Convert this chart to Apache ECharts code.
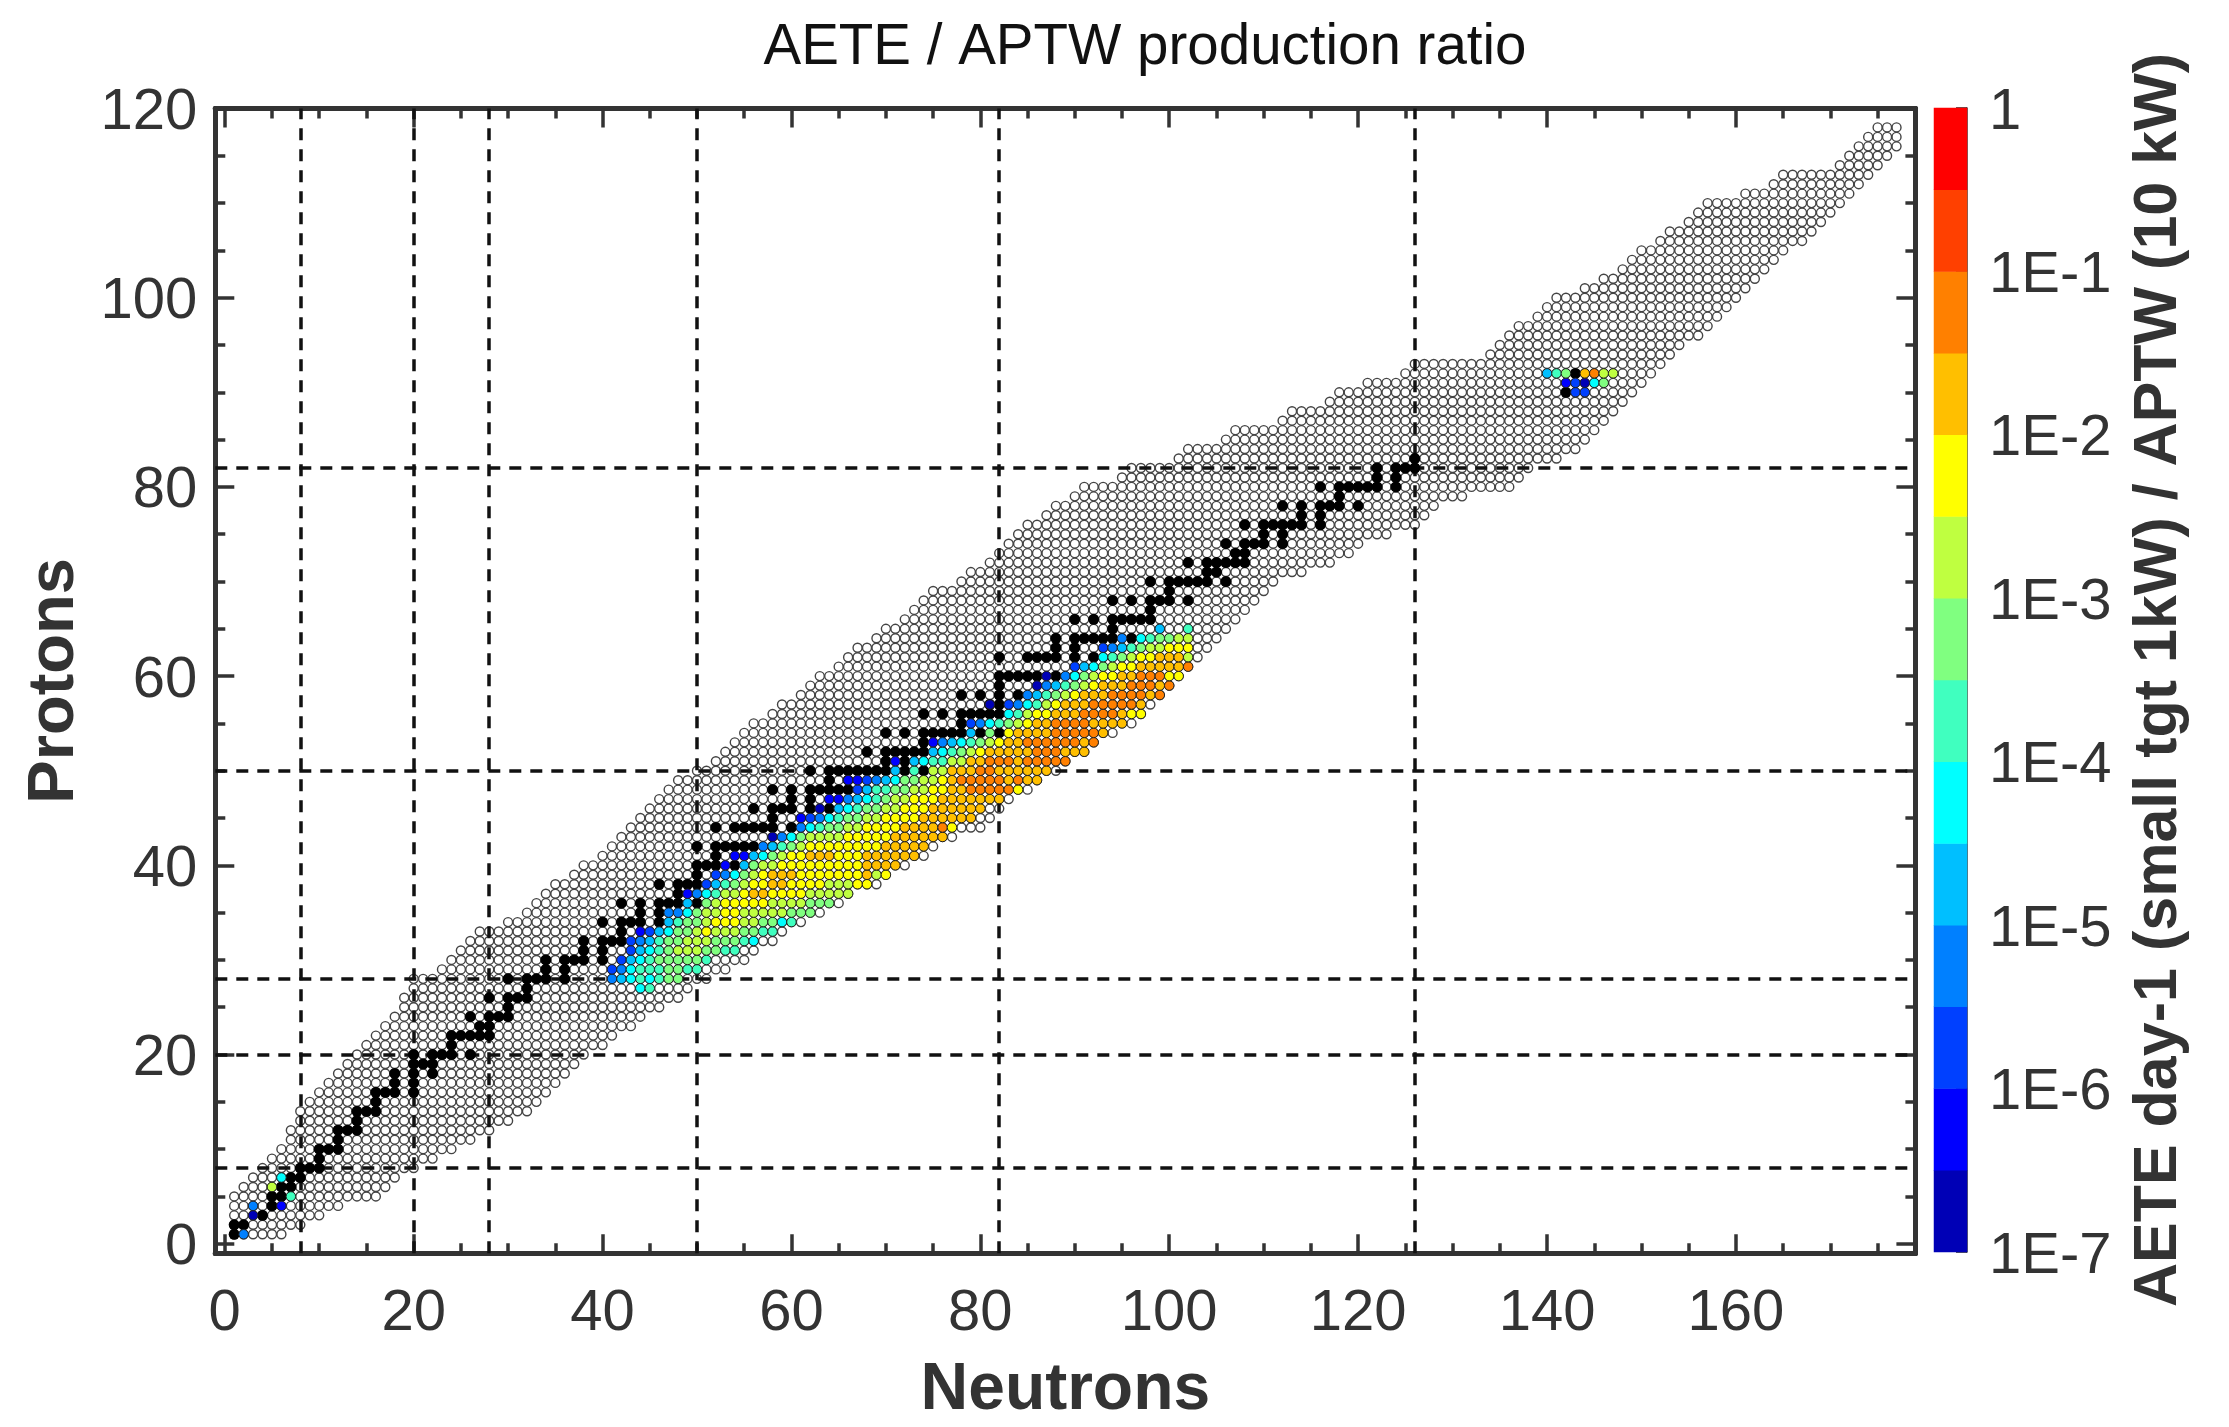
<!DOCTYPE html>
<html>
<head>
<meta charset="utf-8">
<style>html,body{margin:0;padding:0;background:#fff}#c{width:2229px;height:1427px;filter:blur(0.6px)}</style>
<script src="https://cdn.jsdelivr.net/npm/echarts@6/dist/echarts.min.js"></script>
</head>
<body>
<div id="c"></div>
<script>
// tick labels and magic-number lines
const xMajorTicks = [0,20,40,60,80,100,120,140,160];
const xMinorTicks = [5,10,15,25,30,35,45,50,55,65,70,75,85,90,95,105,110,115,125,130,135,145,150,155,165,170,175];
const yMajorTicks = [0,20,40,60,80,100,120];
const yMinorTicks = [5,10,15,25,30,35,45,50,55,65,70,75,85,90,95,105,110,115];
const magicN = [8,20,28,50,82,126];
const magicZ = [8,20,28,50,82];

// first and last neutron number of the chart for Z = 1, 2, 3 ... 118
const firstN = [1,1,1,1,1,2,3,4,5,6,7,7,8,8,9,10,11,12,13,14,15,16,17,18,19,19,20,20,23,24,25,26,27,30,32,33,34,35,37,38,40,41,42,43,44,45,46,47,48,50,52,53,54,55,56,58,59,61,62,63,65,66,67,69,70,72,73,74,75,78,79,81,82,83,84,85,87,88,90,91,95,96,101,102,106,107,112,113,117,118,121,125,126,134,135,136,137,139,140,141,144,146,148,149,150,152,153,155,156,157,161,164,165,171,172,173,174,175];
const lastN = [6,8,10,12,16,17,18,20,22,24,26,28,30,32,33,34,35,36,37,38,40,41,43,44,46,48,49,51,53,55,56,58,59,61,63,65,66,69,70,72,74,75,77,80,81,82,83,85,86,88,89,91,92,94,96,97,98,99,100,101,102,103,104,105,106,107,108,109,110,111,114,117,119,120,123,126,127,128,131,136,137,138,141,143,144,145,146,147,148,149,150,151,152,153,154,156,157,158,159,160,161,162,163,164,165,167,168,169,170,171,172,173,174,175,176,177,177,177];

// black points: [Z, [N...]]
const blackRows = [
[1,[1]],[2,[1,2]],[3,[4]],[4,[5]],[5,[5,6]],[6,[6,7]],[7,[7,8]],[8,[8,9,10]],[9,[10]],[10,[10,11,12]],
[11,[12]],[12,[12,13,14]],[13,[14]],[14,[14,15,16]],[15,[16]],[16,[16,17,18,20]],[17,[18,20]],[18,[18,20,22]],[19,[20,21,22]],[20,[20,22,23,24,26]],
[21,[24]],[22,[24,25,26,27,28]],[23,[27,28]],[24,[26,28,29,30]],[25,[30]],[26,[28,30,31,32]],[27,[32]],[28,[30,32,33,34,36]],[29,[34,36]],[30,[34,36,37,38,40]],
[31,[38,40]],[32,[38,40,41,42,44]],[33,[42]],[34,[40,42,43,44,46,48]],[35,[44,46]],[36,[42,44,46,47,48,50]],[37,[48,50]],[38,[46,48,49,50]],[39,[50]],[40,[50,51,52,54,56]],
[41,[52]],[42,[50,52,53,54,55,56,58]],[44,[52,54,55,56,57,58,60]],[45,[58]],[46,[56,58,59,60,62,64]],[47,[60,62]],[48,[58,60,62,63,64,65,66,68]],[49,[64,66]],[50,[62,64,65,66,67,68,69,70,72,74]],
[51,[70,72]],[52,[68,70,71,72,73,74,76,78]],[53,[74]],[54,[70,72,74,75,76,77,78,80,82]],[55,[78]],[56,[74,76,78,79,80,81,82]],[57,[81,82]],[58,[78,80,82,84]],[59,[82]],[60,[82,83,84,85,86,88,90]],
[62,[82,85,86,87,88,90,92]],[63,[88,90]],[64,[88,90,91,92,93,94,96]],[65,[94]],[66,[90,92,94,95,96,97,98]],[67,[98]],[68,[94,96,98,99,100,102]],[69,[100]],[70,[98,100,101,102,103,104,106]],
[71,[104,105]],[72,[102,104,105,106,107,108]],[73,[107,108]],[74,[106,108,109,110,112]],[75,[110,112]],[76,[108,110,111,112,113,114,116]],[77,[114,116]],[78,[112,114,116,117,118,120]],[79,[118]],[80,[116,118,119,120,121,122,124]],
[81,[122,124]],[82,[122,124,125,126]],[83,[126]],[90,[142]],[92,[143]]
];

// colour band of the ratio (0 = 1E-7..1E-6.5, 13 = 1E-0.5..1): [Z, first N, [bands...]]
const ratioBands = [
[1,2,[3]],[3,3,[0]],[4,3,[3]],[4,6,[1]],[5,7,[6]],[6,5,[8]],[7,6,[5]],
[27,44,[5,6]],
[28,41,[3,4,5,6,5,6,7,7]],
[29,41,[2,3,5,6,6,6,7,7,6,6]],
[30,42,[2,4,5,6,7,7,7,7,7,6]],
[31,43,[2,4,5,6,7,8,8,8,7,7,6,6]],
[32,43,[2,3,4,6,7,7,8,8,8,7,7,7,6,5]],
[33,44,[1,2,4,5,7,7,8,9,8,8,8,7,7,6,6]],
[34,47,[4,6,7,7,8,9,9,9,8,8,7,7,5,6]],
[35,47,[3,3,5,7,8,8,9,9,8,8,8,8,8,7,7,7]],
[36,49,[4]],[36,51,[7,8,9,9,9,9,9,8,8,8,8,7,7,7]],
[37,49,[1,3,5,6,8,8,9,10,10,9,9,9,9,8,8,8,8,8]],
[38,51,[2,4,6,7,8,9,9,10,10,9,9,9,9,8,8,8,9,9]],
[39,52,[2,3,5,7,8,9,10,10,10,9,9,9,9,9,9,9,10,8,9]],
[40,53,[1]],[40,55,[4,7,8,8,9,9,9,9,9,9,9,9,9,10,10,10,10]],
[41,54,[1,1,4,5,7,8,9,9,10,10,10,9,9,9,10,10,10,10,10,10]],
[42,57,[3,4,6,7,8,9,9,9,9,9,9,9,9,10,10,10,10,10]],
[43,58,[0,3,5,7,8,8,8,8,9,9,9,9,9,10,10,10,10,10,10]],
[44,61,[3,5,6,7,7,8,8,9,9,9,9,10,10,10,10,11,9]],
[45,61,[1,2,3,5,6,7,7,8,8,9,9,9,9,10,10,10,10,10,10]],
[46,63,[0]],[46,65,[4,5,6,7,7,8,8,9,9,9,10,10,10,10,10,10]],
[47,64,[1,1,3,4,5,6,7,8,8,9,9,9,10,10,10,10,10,10,10]],
[48,67,[2,4,6,6,7,7,8,8,9,9,10,10,11,11,11,11,11,9]],
[49,66,[1,1,2,3,4,5,7,7,8,8,9,10,11,11,11,11,11,10,11,10,10]],
[50,71,[4]],[50,73,[6]],[50,75,[8,8,10,10,10,11,11,10,10,10,10,10,10]],
[51,71,[1]],[51,73,[4,5,6,6,8,8,10,10,11,11,11,10,11,11,11,11,11]],
[52,75,[4,5,6,7,8,9,10,10,10,10,10,11,11,11,10,10,10]],
[53,75,[1,3,4,5,6,7,8,9,10,10,11,11,11,11,11,11,10,11]],
[54,79,[4]],[54,81,[7]],[54,83,[9,10,10,10,10,11,11,11,11,11,10]],
[55,79,[2,3,5,6,7,8,9,10,10,11,11,11,11,10,10,10,10]],
[56,83,[5,6,8,9,9,10,10,10,11,11,11,11,10,9,9]],
[57,81,[0]],[57,83,[2,3,5,6,8,9,10,10,10,11,11,11,11,11,10]],
[58,85,[3,4,6,7,8,9,10,10,10,11,11,11,11,10,11]],
[59,86,[0,3,4,6,7,8,9,10,10,10,11,11,11,10,11]],
[60,87,[0]],[60,89,[3,5,7,8,9,9,10,10,11,11,11,9,9]],
[61,90,[2,4,5,7,8,9,9,10,10,10,10,10,11]],
[62,93,[5,6,7,8,9,9,10,10,10,8]],
[63,93,[2,3,4,6,7,8,8,9,9,9]],
[64,95,[3]],[64,97,[5,6,7,7,8,8]],
[65,99,[4]],[65,102,[6]],
[90,143,[2,2]],
[91,142,[1,2,0,5,7]],
[92,140,[4,6,7]],[92,144,[10,11,8,8]]
];

const bandColors = ['#0000b6','#0000ff','#0040ff','#0080ff','#00bfff','#00ffff','#40ffbf','#80ff80','#bfff40','#ffff00','#ffbf00','#ff8000','#ff4000','#ff0000'];

// log10(ratio) at the middle of a band
const bandLog = b => -7 + (b + 0.5) / 2;

const openData = [];
firstN.forEach((n0, i) => { for (let n = n0; n <= lastN[i]; n++) openData.push([n, i + 1]); });
const blackData = [];
blackRows.forEach(([z, ns]) => ns.forEach(n => blackData.push([n, z])));
const colorData = [];
ratioBands.forEach(([z, n0, bands]) => bands.forEach((b, k) => colorData.push([n0 + k, z, bandLog(b)])));
const bandIndex = bandColors.map((_, i) => String(i));
const barData = bandColors.map((_, i) => [0, i, bandLog(i)]);
const pieces = bandColors.map((color, i) => ({ gte: -7 + i / 2, lt: -7 + (i + 1) / 2, color }));

const gridBox = { left: 215.3, top: 108.5, width: 1700.1, height: 1144.7, outerBoundsMode: 'none', containLabel: false };
const axisColor = '#333';
const font = '"Liberation Sans", Arial, sans-serif';
const noAxis = { show: false };
const shiftedLabel = { fontSize: 58, color: axisColor, fontFamily: font, padding: [9, 0, 0, 0] };

function frameX(gridIndex, position, ticks, len, withLabel) {
  return {
    type: 'value', gridIndex, position, min: -1, max: 179, splitLine: noAxis,
    axisLine: { show: true, onZero: false, lineStyle: { color: axisColor, width: 5 } },
    axisTick: { show: true, inside: true, length: len, customValues: ticks, lineStyle: { color: axisColor, width: 3.5 } },
    axisLabel: withLabel ? { show: true, customValues: ticks, fontSize: 58, color: axisColor, fontFamily: font, margin: 32 } : { show: false },
    ...(withLabel ? { name: 'Neutrons', nameLocation: 'middle', nameGap: 105, nameTextStyle: { fontSize: 66, fontWeight: 'bold', color: axisColor, fontFamily: font } } : {})
  };
}
function frameY(gridIndex, position, ticks, len, withLabel) {
  return {
    type: 'value', gridIndex, position, min: -1, max: 120, splitLine: noAxis,
    axisLine: { show: true, onZero: false, lineStyle: { color: axisColor, width: 5 } },
    axisTick: { show: true, inside: true, length: len, customValues: ticks, lineStyle: { color: axisColor, width: 3.5 } },
    axisLabel: withLabel ? { show: true, customValues: ticks, margin: 18, fontSize: 58, fontFamily: font, formatter: v => '{a|' + v + '}', rich: { a: shiftedLabel } } : { show: false },
    ...(withLabel ? { name: 'Protons', nameLocation: 'middle', nameGap: 128, nameRotate: 90, nameTextStyle: { fontSize: 65, fontWeight: 'bold', color: axisColor, fontFamily: font } } : {})
  };
}

const chart = echarts.init(document.getElementById('c'), null, { renderer: 'canvas' });
chart.setOption({
  animation: false,
  backgroundColor: '#fff',
  title: {
    text: 'AETE / APTW production ratio', left: 1140, top: 43, textAlign: 'center', textVerticalAlign: 'middle',
    textStyle: { fontSize: 56.5, fontWeight: 'normal', color: '#111', fontFamily: font }
  },
  grid: [
    { ...gridBox },
    { ...gridBox },
    { left: 1934, top: 108, width: 33, height: 1144, outerBoundsMode: 'none', containLabel: false }
  ],
  xAxis: [
    frameX(0, 'bottom', xMajorTicks, 19, true),
    frameX(0, 'top', xMajorTicks, 19, false),
    frameX(1, 'bottom', xMinorTicks, 10, false),
    frameX(1, 'top', xMinorTicks, 10, false),
    { type: 'category', gridIndex: 2, data: ['bar'], show: false }
  ],
  yAxis: [
    frameY(0, 'left', yMajorTicks, 19, true),
    frameY(0, 'right', yMajorTicks, 19, false),
    frameY(1, 'left', yMinorTicks, 10, false),
    frameY(1, 'right', yMinorTicks, 10, false),
    { type: 'category', gridIndex: 2, data: bandIndex, show: false },
    {
      type: 'value', gridIndex: 2, position: 'right', min: -7, max: 0, interval: 1, splitLine: noAxis,
      axisLine: { show: true, lineStyle: { color: axisColor, width: 1.5 } },
      axisTick: { show: true, inside: true, length: 11, lineStyle: { color: '#222', width: 1.5 } },
      axisLabel: { show: true, margin: 22, fontSize: 58, fontFamily: font, formatter: v => '{a|' + (v === 0 ? '1' : '1E' + v) + '}', rich: { a: shiftedLabel } },
      name: 'AETE day-1 (small tgt 1kW) / APTW (10 kW)', nameLocation: 'middle', nameGap: 162, nameRotate: 90,
      nameTextStyle: { fontSize: 61, fontWeight: 'bold', color: axisColor, fontFamily: font }
    }
  ],
  visualMap: { show: false, type: 'piecewise', dimension: 2, seriesIndex: [3, 4], pieces },
  series: [
    {
      type: 'scatter', xAxisIndex: 0, yAxisIndex: 0, data: [], z: 1, silent: true,
      markLine: {
        silent: true, symbol: 'none', animation: false, label: { show: false }, z: 1,
        lineStyle: { color: '#111', width: 3.5, type: [12, 9] },
        data: magicN.map(v => ({ xAxis: v })).concat(magicZ.map(v => ({ yAxis: v })))
      }
    },
    {
      type: 'scatter', xAxisIndex: 0, yAxisIndex: 0, data: openData, z: 2, symbolSize: 9, silent: true, progressive: 0,
      itemStyle: { color: 'rgba(255,255,255,0)', borderColor: '#444', borderWidth: 1.4, opacity: 1 }
    },
    {
      type: 'scatter', xAxisIndex: 0, yAxisIndex: 0, data: blackData, z: 3, symbolSize: 11, silent: true, progressive: 0,
      itemStyle: { color: '#000', opacity: 1 }
    },
    {
      type: 'scatter', xAxisIndex: 0, yAxisIndex: 0, data: colorData, z: 4, symbolSize: 9.5, silent: true, progressive: 0,
      itemStyle: { borderColor: '#222', borderWidth: 1, opacity: 1 }
    },
    {
      type: 'heatmap', xAxisIndex: 4, yAxisIndex: 4, data: barData, z: 2, silent: true, progressive: 0,
      encode: { x: 0, y: 1 }
    }
  ]
});
</script>
</body>
</html>
